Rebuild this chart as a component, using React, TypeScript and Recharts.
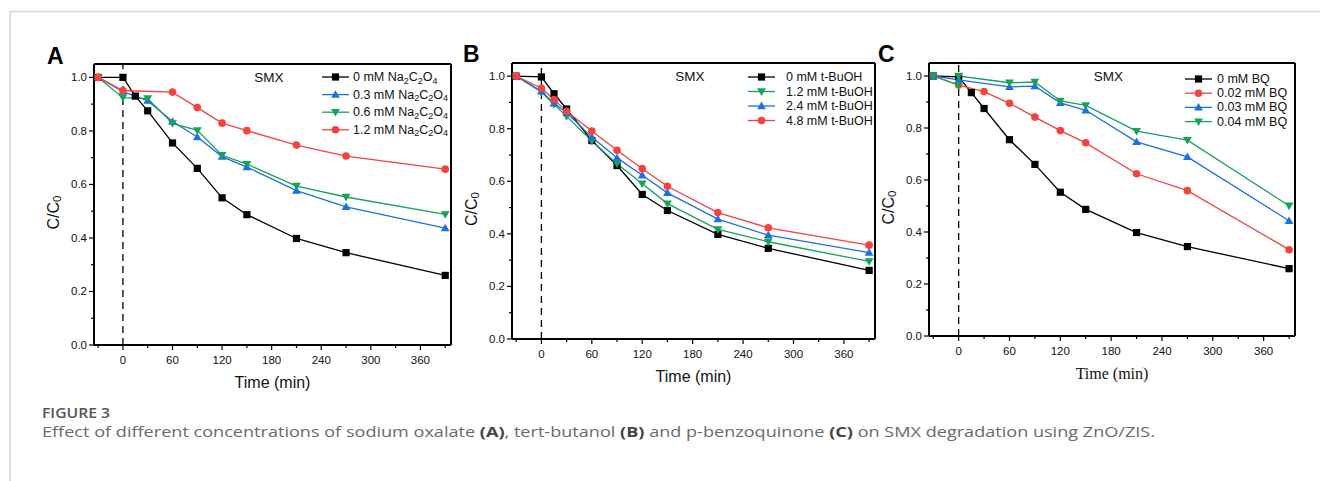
import { LineChart, Line, XAxis, YAxis, ReferenceLine, Legend } from 'recharts'

// sampling times (min)
const T_ALL = [-30, 0, 15, 30, 60, 90, 120, 150, 210, 270, 390]
const T_NO15 = [-30, 0, 30, 60, 90, 120, 150, 210, 270, 390]
const T_SPARSE = [-30, 0, 60, 90, 120, 150, 210, 270, 390]
const T_C_GREEN = [-30, 0, 0, 60, 90, 120, 150, 210, 270, 390]

// panel A: sodium oxalate
const A_0 = [1.0, 1.0, 0.93, 0.875, 0.755, 0.66, 0.55, 0.487, 0.398, 0.345, 0.26]
const A_03 = [1.0, 0.947, 0.913, 0.835, 0.777, 0.704, 0.665, 0.577, 0.516, 0.437]
const A_06 = [1.0, 0.924, 0.921, 0.828, 0.802, 0.709, 0.676, 0.594, 0.553, 0.488]
const A_12 = [1.0, 0.951, 0.945, 0.887, 0.829, 0.801, 0.747, 0.706, 0.657]

// panel B: tert-butanol
const B_0 = [1.0, 0.997, 0.933, 0.875, 0.755, 0.66, 0.55, 0.489, 0.398, 0.345, 0.261]
const B_12 = [1.0, 0.94, 0.893, 0.847, 0.753, 0.667, 0.591, 0.515, 0.417, 0.37, 0.295]
const B_24 = [1.0, 0.942, 0.897, 0.861, 0.768, 0.689, 0.623, 0.556, 0.456, 0.395, 0.329]
const B_48 = [1.0, 0.954, 0.911, 0.866, 0.791, 0.718, 0.648, 0.581, 0.481, 0.423, 0.357]

// panel C: p-benzoquinone
const C_0 = [1.0, 0.997, 0.936, 0.875, 0.755, 0.66, 0.553, 0.487, 0.398, 0.344, 0.259]
const C_002 = [1.0, 0.965, 0.94, 0.895, 0.842, 0.79, 0.743, 0.624, 0.559, 0.332]
const C_003 = [1.0, 0.985, 0.958, 0.961, 0.897, 0.868, 0.747, 0.689, 0.443]
const C_004 = [1.0, 0.965, 1.0, 0.974, 0.977, 0.904, 0.887, 0.788, 0.753, 0.501]

const X_TICKS = [-30, 0, 30, 60, 90, 120, 150, 180, 210, 240, 270, 300, 330, 360, 390]
const Y_TICKS = [0, 0.1, 0.2, 0.3, 0.4, 0.5, 0.6, 0.7, 0.8, 0.9, 1.0]
const X_DOMAIN = [-35, 397]
const Y_DOMAIN = [0, 1.05]

const BLACK = '#000000'
const RED = '#f4433f'
const BLUE = '#1f6fe0'
const GREEN = '#17a25a'
const SANS = '"Liberation Sans", Arial, sans-serif'

type Shape = 'square' | 'circle' | 'up' | 'down'
type Series = { name: string; color: string; shape: Shape; t: number[]; v: number[] }

const zip = (t: number[], v: number[]) => t.map((x, i) => ({ t: x, v: v[i] }))

const Marker = ({ cx, cy, shape, color }: { cx?: number; cy?: number; shape: Shape; color: string }) => {
	if (cx == null || cy == null) return null
	if (shape === 'square') return <rect x={cx - 3.6} y={cy - 3.6} width={7.2} height={7.2} fill={color} />
	if (shape === 'circle') return <circle cx={cx} cy={cy} r={3.8} fill={color} />
	if (shape === 'up')
		return <polygon points={`${cx},${cy - 4.4} ${cx + 4.4},${cy + 3.2} ${cx - 4.4},${cy + 3.2}`} fill={color} />
	return <polygon points={`${cx},${cy + 4.4} ${cx + 4.4},${cy - 3.2} ${cx - 4.4},${cy - 3.2}`} fill={color} />
}

// "_x" marks a subscript character
const rich = (s: string, size: number) => {
	const parts = s.split(/(_.)/).filter(Boolean)
	let down = false
	return parts.map((p, i) => {
		if (p.startsWith('_')) {
			const el = (
				<tspan key={i} dy={down ? 0 : size * 0.28} fontSize={size * 0.72}>
					{p.slice(1)}
				</tspan>
			)
			down = true
			return el
		}
		const el = (
			<tspan key={i} dy={down ? -size * 0.28 : 0}>
				{p}
			</tspan>
		)
		down = false
		return el
	})
}

const XTick = (props: any) => {
	const { x, y, payload } = props
	const major = payload.value % 60 === 0
	return (
		<g>
			<line x1={x} x2={x} y1={y} y2={y + (major ? 5 : 3)} stroke='#000' strokeWidth={1.2} />
			{major && (
				<text x={x} y={y + 15} textAnchor='middle' dominantBaseline='central' fontSize={11.5} fontFamily={SANS} fill='#111'>
					{payload.value}
				</text>
			)}
		</g>
	)
}

const YTick = (props: any) => {
	const { x, y, payload } = props
	const major = Math.round(payload.value * 10) % 2 === 0
	return (
		<g>
			<line x1={x} x2={x - (major ? 5 : 3)} y1={y} y2={y} stroke='#000' strokeWidth={1.2} />
			{major && (
				<text x={x - 7} y={y} textAnchor='end' dominantBaseline='central' fontSize={11.5} fontFamily={SANS} fill='#111'>
					{payload.value.toFixed(1)}
				</text>
			)}
		</g>
	)
}

type PanelDef = {
	left: number
	top: number
	w: number
	h: number
	series: Series[]
	legendX: number
	legendY: number
	rowGap: number
	textX: number
	titleFont: string
}

const PanelLegend = ({ p }: { p: PanelDef }) => (
	<svg width={170} height={p.series.length * p.rowGap + 8} style={{ display: 'block', overflow: 'visible' }}>
		{p.series.map((s, i) => {
			const y = 6 + i * p.rowGap
			return (
				<g key={s.name}>
					<line x1={0} x2={27} y1={y} y2={y} stroke={s.color} strokeWidth={1.3} />
					<Marker cx={13.5} cy={y} shape={s.shape} color={s.color} />
					<text x={p.textX} y={y} dominantBaseline='central' fontSize={12.5} fontFamily={SANS} fill='#111'>
						{rich(s.name, 12.5)}
					</text>
				</g>
			)
		})}
	</svg>
)

const ML = 60
const MT = 40
const MR = 30
const MB = 50

const Panel = ({ p }: { p: PanelDef }) => {
	const frame = { stroke: '#000', strokeWidth: 2 }
	return (
		<div style={{ position: 'absolute', left: p.left - ML, top: p.top - MT }}>
			<LineChart width={p.w + ML + MR} height={p.h + MT + MB} margin={{ top: MT - 1, right: MR - 1, bottom: MB - 1, left: ML - 1 }}>
				<XAxis xAxisId='top' orientation='top' type='number' dataKey='t' domain={X_DOMAIN} height={1} tick={false} tickLine={false} axisLine={frame} allowDataOverflow />
				<YAxis yAxisId='right' orientation='right' type='number' domain={Y_DOMAIN} width={1} tick={false} tickLine={false} axisLine={frame} allowDataOverflow />
				<XAxis
					type='number'
					dataKey='t'
					domain={X_DOMAIN}
					ticks={X_TICKS}
					interval={0}
					height={1}
					tickSize={0}
					tickMargin={0}
					tickLine={false}
					tick={(tp: any) => <XTick {...tp} />}
					axisLine={frame}
					allowDataOverflow
				/>
				<YAxis
					type='number'
					domain={Y_DOMAIN}
					ticks={Y_TICKS}
					interval={0}
					width={1}
					tickSize={0}
					tickMargin={0}
					tickLine={false}
					tick={(tp: any) => <YTick {...tp} />}
					axisLine={frame}
					allowDataOverflow
				/>
				<ReferenceLine x={0} stroke='#000' strokeWidth={1.3} strokeDasharray='7 5' />
				{p.series.map((s) => (
					<Line
						key={s.name}
						data={zip(s.t, s.v)}
						dataKey='v'
						name={s.name}
						stroke={s.color}
						strokeWidth={1.3}
						isAnimationActive={false}
						activeDot={false}
						dot={(dp: any) => <Marker key={`${s.name}-${dp.index}`} cx={dp.cx} cy={dp.cy} shape={s.shape} color={s.color} />}
					/>
				))}
				<Legend
					layout='vertical'
					align='center'
					verticalAlign='middle'
					wrapperStyle={{ left: p.legendX, top: p.legendY - 6, width: 170, height: 'auto' }}
					content={() => <PanelLegend p={p} />}
				/>
				<text x={ML + p.w * 0.49} y={MT + 13} textAnchor='middle' dominantBaseline='central' fontSize={13.5} fontFamily={SANS} fill='#111'>
					SMX
				</text>
				<text x={ML + p.w / 2} y={MT + p.h + 37} textAnchor='middle' dominantBaseline='central' fontSize={16} fontFamily={p.titleFont} fill='#111'>
					Time (min)
				</text>
				<text
					transform={`translate(19, ${MT + p.h / 2 + 8}) rotate(-90)`}
					textAnchor='middle'
					dominantBaseline='central'
					fontSize={16}
					fontFamily={SANS}
					fill='#111'
				>
					{rich('C/C_0', 16)}
				</text>
			</LineChart>
		</div>
	)
}

const PANELS: PanelDef[] = [
	{
		left: 94,
		top: 64,
		w: 357,
		h: 281,
		legendX: 288,
		legendY: 53,
		rowGap: 17.6,
		textX: 31,
		titleFont: SANS,
		series: [
			{ name: '0 mM Na_2C_2O_4', color: BLACK, shape: 'square', t: T_ALL, v: A_0 },
			{ name: '0.3 mM Na_2C_2O_4', color: BLUE, shape: 'up', t: T_NO15, v: A_03 },
			{ name: '0.6 mM Na_2C_2O_4', color: GREEN, shape: 'down', t: T_NO15, v: A_06 },
			{ name: '1.2 mM Na_2C_2O_4', color: RED, shape: 'circle', t: T_SPARSE, v: A_12 },
		],
	},
	{
		left: 512,
		top: 63,
		w: 363,
		h: 276,
		legendX: 296,
		legendY: 54,
		rowGap: 14.5,
		textX: 38,
		titleFont: SANS,
		series: [
			{ name: '0 mM t-BuOH', color: BLACK, shape: 'square', t: T_ALL, v: B_0 },
			{ name: '1.2 mM t-BuOH', color: GREEN, shape: 'down', t: T_ALL, v: B_12 },
			{ name: '2.4 mM t-BuOH', color: BLUE, shape: 'up', t: T_ALL, v: B_24 },
			{ name: '4.8 mM t-BuOH', color: RED, shape: 'circle', t: T_ALL, v: B_48 },
		],
	},
	{
		left: 929,
		top: 63,
		w: 366,
		h: 273,
		legendX: 316,
		legendY: 56,
		rowGap: 14.2,
		textX: 32,
		titleFont: '"Liberation Serif", "Times New Roman", serif',
		series: [
			{ name: '0 mM BQ', color: BLACK, shape: 'square', t: T_ALL, v: C_0 },
			{ name: '0.02 mM BQ', color: RED, shape: 'circle', t: T_NO15, v: C_002 },
			{ name: '0.03 mM BQ', color: BLUE, shape: 'up', t: T_SPARSE, v: C_003 },
			{ name: '0.04 mM BQ', color: GREEN, shape: 'down', t: T_C_GREEN, v: C_004 },
		],
	},
]

const LETTERS = [
	{ label: 'A', x: 47, y: 64 },
	{ label: 'B', x: 463, y: 62 },
	{ label: 'C', x: 878, y: 62 },
]

const CAPTION_FONT = '"Open Sans", "Noto Sans", sans-serif'

export default function App() {
	return (
		<div style={{ position: 'relative', width: 1320, height: 481, background: '#fff', overflow: 'hidden' }}>
			<style>{'body{margin:0}'}</style>
			<svg width={1320} height={481} style={{ position: 'absolute', left: 0, top: 0 }}>
				<line x1={10} x2={1320} y1={11.5} y2={11.5} stroke='#d6d6d6' strokeWidth={1.5} />
				<line x1={10} x2={10} y1={11} y2={481} stroke='#d6d6d6' strokeWidth={1.5} />
				{LETTERS.map((l) => (
					<text key={l.label} x={l.x} y={l.y} fontSize={23} fontWeight='bold' fontFamily={SANS} fill='#000'>
						{l.label}
					</text>
				))}
				<text x={42} y={418} fontSize={15} fontWeight={600} fontFamily={CAPTION_FONT} fill='#555' textLength={68} lengthAdjust='spacingAndGlyphs'>
					FIGURE 3
				</text>
				<text x={42} y={437} fontSize={15} fontFamily={CAPTION_FONT} fill='#6a6a6a' textLength={1113} lengthAdjust='spacingAndGlyphs'>
					Effect of different concentrations of sodium oxalate <tspan fontWeight={700} fill='#444'>(A)</tspan>, tert-butanol{' '}
					<tspan fontWeight={700} fill='#444'>(B)</tspan> and p-benzoquinone <tspan fontWeight={700} fill='#444'>(C)</tspan> on SMX
					degradation using ZnO/ZIS.
				</text>
			</svg>
			{PANELS.map((p, i) => (
				<Panel key={i} p={p} />
			))}
		</div>
	)
}
